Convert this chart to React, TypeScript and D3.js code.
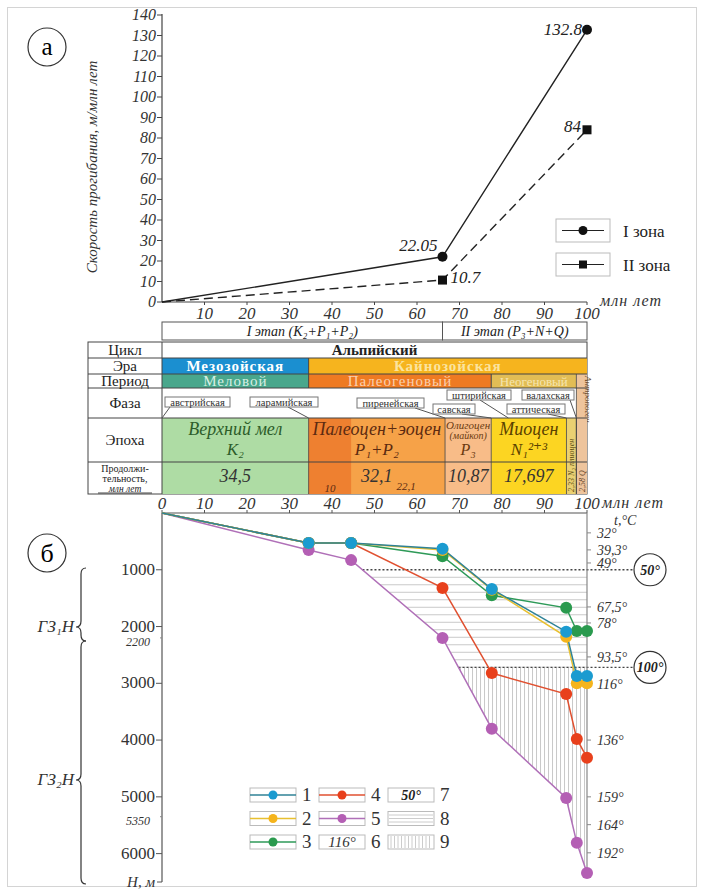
import React from "react";
import * as d3 from "d3";

// ---- chart (a): subsidence rate ----
const topAges = [0, 66, 100];
const zone1 = [0, 22.05, 132.8];
const zone2 = [0, 10.7, 84];
const zone1Labels = ["", "22.05", "132.8"];
const zone2Labels = ["", "10.7", "84"];
const topYTicks = [0, 10, 20, 30, 40, 50, 60, 70, 80, 90, 100, 110, 120, 130, 140];
const topXTicks = [10, 20, 30, 40, 50, 60, 70, 80, 90, 100];

// ---- stratigraphic table ----
const stageNames = ["I этап (K₂+P₁+P₂)", "II этап (P₃+N+Q)"];
const stageBounds = [0, 66, 100];
const eraNames = ["Мезозойская", "Кайнозойская"];
const eraBounds = [0, 34.5, 100];
const periodNames = ["Меловой", "Палеогеновый", "Неогеновый"];
const periodBounds = [0, 34.5, 77.47, 97.5];
const epochNames = ["Верхний мел", "Палеоцен+эоцен", "Олигоцен", "Миоцен"];
const epochIndex = ["K₂", "P₁+P₂", "P₃", "N₁²⁺³"];
const epochBounds = [0, 34.5, 66.6, 77.47, 95.17, 97.5, 100];
const durations = ["34,5", "32,1", "10,87", "17,697", "2,33", "2,58"];
const paleoSplit = 44.5;
const phaseNames = ["австрийская", "ларамийская", "пиренейская", "савская", "штирийская", "аттическая", "валахская"];
const phaseAges = [0, 34.5, 66.6, 77.47, 81.5, 95.17, 97.5];

// ---- chart (б): burial history ----
const burialAges = [0, 34.5, 44.5, 66, 77.6, 95.1, 97.6, 100];
const well1 = [0, 530, 530, 630, 1340, 2090, 2870, 2870];
const well2 = [0, 530, 530, 650, 1350, 2180, 3000, 3000];
const well3 = [0, 530, 530, 760, 1450, 1670, 2080, 2080];
const well4 = [0, 530, 530, 1320, 2820, 3190, 3980, 4310];
const well5 = [0, 650, 830, 2200, 3800, 5020, 5810, 6340];
const bottomXTicks = [0, 10, 20, 30, 40, 50, 60, 70, 80, 90, 100];
const depthTicks = [1000, 2000, 3000, 4000, 5000, 6000];
const extraDepths = [2200, 5350];
const tempLabels = ["32°", "39,3°", "49°", "67,5°", "78°", "93,5°", "116°", "136°", "159°", "164°", "192°"];
const tempDepths = [350, 650, 880, 1655, 1937, 2535, 3010, 4000, 5000, 5490, 5986];
const isothermDepths = [1000, 2720];
const isothermLabels = ["50°", "100°"];

const SERIF = '"Liberation Serif", "Times New Roman", "DejaVu Serif", serif';
const wellColors = ["#1b9bd0", "#f5b41c", "#2a9a4e", "#e8401c", "#b45fb4"];
const wellLines = ["#2f8296", "#e8c030", "#2e9a58", "#e05030", "#b070b8"];

const x = d3.scaleLinear().domain([0, 100]).range([162, 587]);
const yTop = d3.scaleLinear().domain([0, 140]).range([302, 15]);
const yDepth = d3.scaleLinear().domain([0, 6500]).range([513, 882]);

// age on the deepest curve at a given depth
function ageAtDepth(d: number) {
  for (let i = 0; i < well5.length - 1; i++) {
    if (d >= well5[i] && d <= well5[i + 1]) {
      const t = (d - well5[i]) / (well5[i + 1] - well5[i]);
      return burialAges[i] + t * (burialAges[i + 1] - burialAges[i]);
    }
  }
  return 100;
}

function bandPolygon(d0: number, d1: number) {
  const pts: [number, number][] = [[x(ageAtDepth(d0)), yDepth(d0)]];
  well5.forEach((d, i) => {
    if (d > d0 && d < d1) pts.push([x(burialAges[i]), yDepth(d)]);
  });
  pts.push([x(ageAtDepth(d1)), yDepth(d1)]);
  pts.push([x(100), yDepth(d1)]);
  pts.push([x(100), yDepth(d0)]);
  return pts.map((p) => p.join(",")).join(" ");
}

function brace(bx: number, y0: number, ym: number, y1: number) {
  const w = 5;
  const r = 6;
  return `M${bx + w},${y0} Q${bx},${y0} ${bx},${y0 + r} L${bx},${ym - r} Q${bx},${ym} ${bx - w},${ym} Q${bx},${ym} ${bx},${ym + r} L${bx},${y1 - r} Q${bx},${y1} ${bx + w},${y1}`;
}

function App() {
  const topLine = d3.line<number>().x((_, i) => x(topAges[i])).y((d) => yTop(d));
  const burialLine = d3.line<number>().x((_, i) => x(burialAges[i])).y((d) => yDepth(d));
  const wells = [well1, well2, well3, well4, well5];

  // table rows
  const rows = { cycle: [342, 358], era: [358, 374], period: [374, 388], phase: [388, 418], epoch: [418, 462], dur: [462, 494] };
  const rowLabels = ["Цикл", "Эра", "Период", "Фаза", "Эпоха"];
  const rowKeys = ["cycle", "era", "period", "phase", "epoch"];
  const eraFill = ["#1b8fd0", "#f6b41e"];
  const eraText = ["#ffffff", "#fbe4a0"];
  const periodFill = ["#49a78c", "#ee7a22", "#e2bd55"];
  const periodText = ["#d8efe4", "#fad0b0", "#f6e6b0"];
  const epochFill = ["#aedca4", "#f6a248", "#f8bc88", "#fcd522", "#ead072", "#eec49c"];
  const epochText = ["#2d5d2a", "#5c2a10", "#6a3a10", "#5a4200"];
  const phaseBox = [
    [165, 397, 65], [250, 397, 68], [357, 398, 67], [433, 404, 42], [447, 390, 64], [507, 404, 58], [522, 390, 52],
  ];
  const phaseAnchor = [170, 288, 415, 462, 480, 548, 570];

  const hStep = 7.5;
  const hLines = d3.range(yDepth(isothermDepths[0]) + hStep, yDepth(isothermDepths[1]), hStep);
  const vLines = d3.range(x(ageAtDepth(isothermDepths[1])) + 2, x(100), 4);

  return (
    <svg width={704} height={890} style={{ position: "absolute", left: 0, top: 0, background: "#fff", fontFamily: SERIF }}>
      <defs>
        <clipPath id="band1"><polygon points={bandPolygon(isothermDepths[0], isothermDepths[1])} /></clipPath>
        <clipPath id="band2"><polygon points={bandPolygon(isothermDepths[1], well5[well5.length - 1])} /></clipPath>
      </defs>
      <rect x={7.5} y={7.5} width={689} height={879} fill="#fff" stroke="#d4d4d4" />

      {/* ===== chart (a) ===== */}
      <circle cx={47} cy={47} r={19} fill="#fff" stroke="#333" strokeWidth={1.2} />
      <text x={47} y={55} textAnchor="middle" fontSize={25}>а</text>
      <text transform="translate(97,167) rotate(-90)" textAnchor="middle" fontSize={15} fontStyle="italic" fill="#333">
        Скорость прогибания, м/млн  лет
      </text>
      <line x1={x(0)} x2={x(0)} y1={14} y2={yTop(0)} stroke="#444" strokeWidth={1.2} />
      <line x1={x(0)} x2={x(100)} y1={yTop(0)} y2={yTop(0)} stroke="#444" strokeWidth={1.2} />
      {topYTicks.map((t) => (
        <g key={t}>
          <line x1={x(0) - 5} x2={x(0)} y1={yTop(t)} y2={yTop(t)} stroke="#444" />
          <text x={x(0) - 6} y={yTop(t) + 5} textAnchor="end" fontSize={16} fontStyle="italic" fill="#333">{t}</text>
        </g>
      ))}
      {topXTicks.map((t) => (
        <g key={t}>
          <line x1={x(t)} x2={x(t)} y1={yTop(0)} y2={yTop(0) + 3} stroke="#444" />
          <text x={x(t)} y={319} textAnchor="middle" fontSize={17} fontStyle="italic" fill="#333">{t}</text>
        </g>
      ))}
      <text x={600} y={306} fontSize={16} fontStyle="italic" fill="#333" letterSpacing={1}>млн  лет</text>
      <path d={topLine(zone1) || ""} fill="none" stroke="#222" strokeWidth={1.4} />
      <path d={topLine(zone2) || ""} fill="none" stroke="#222" strokeWidth={1.4} strokeDasharray="9,5" />
      {zone1.map((v, i) => i > 0 && (
        <g key={"z1" + i}>
          <circle cx={x(topAges[i])} cy={yTop(v)} r={5} fill="#111" />
          <text x={x(topAges[i]) - 5} y={yTop(v) + (i === 2 ? 5 : -6)} textAnchor="end" fontSize={17} fontStyle="italic" fill="#222">{zone1Labels[i]}</text>
        </g>
      ))}
      {zone2.map((v, i) => i > 0 && (
        <g key={"z2" + i}>
          <rect x={x(topAges[i]) - 4.5} y={yTop(v) - 4.5} width={9} height={9} fill="#111" />
          {i === 1 ? (
            <text x={x(topAges[i]) + 8} y={yTop(v) + 3} fontSize={17} fontStyle="italic" fill="#222">{zone2Labels[i]}</text>
          ) : (
            <text x={x(topAges[i]) - 6} y={yTop(v) + 2} textAnchor="end" fontSize={17} fontStyle="italic" fill="#222">{zone2Labels[i]}</text>
          )}
        </g>
      ))}
      {/* legend (a) */}
      <rect x={556} y={219} width={54} height={23} fill="#fff" stroke="#bbb" />
      <line x1={562} x2={604} y1={230.5} y2={230.5} stroke="#222" />
      <circle cx={583} cy={230.5} r={4.5} fill="#111" />
      <text x={623} y={237} fontSize={17} fill="#222">I зона</text>
      <rect x={556} y={253} width={54} height={23} fill="#fff" stroke="#bbb" />
      <line x1={562} x2={604} y1={264.5} y2={264.5} stroke="#222" />
      <rect x={579} y={260.5} width={8} height={8} fill="#111" />
      <text x={623} y={271} fontSize={17} fill="#222">II зона</text>

      {/* stage boxes */}
      {stageNames.map((s, i) => (
        <g key={s}>
          <rect x={x(stageBounds[i])} y={322} width={x(stageBounds[i + 1]) - x(stageBounds[i])} height={18} fill="#fff" stroke="#555" />
          <text x={(x(stageBounds[i]) + x(stageBounds[i + 1])) / 2} y={336} textAnchor="middle" fontSize={14} fontStyle="italic" fill="#222">{s}</text>
        </g>
      ))}

      {/* ===== stratigraphic table ===== */}
      <rect x={88} y={342} width={x(100) - 88} height={152} fill="#fff" stroke="#444" />
      {eraNames.map((n, i) => (
        <g key={n}>
          <rect x={x(eraBounds[i])} y={rows.era[0]} width={x(eraBounds[i + 1]) - x(eraBounds[i])} height={16} fill={eraFill[i]} />
          <text x={(x(eraBounds[i]) + x(eraBounds[i + 1])) / 2} y={rows.era[0] + 13} textAnchor="middle" fontSize={15} fontWeight="bold" letterSpacing={1} fill={eraText[i]}>{n}</text>
        </g>
      ))}
      {periodNames.map((n, i) => (
        <g key={n}>
          <rect x={x(periodBounds[i])} y={rows.period[0]} width={x(periodBounds[i + 1]) - x(periodBounds[i])} height={14} fill={periodFill[i]} />
          <text x={(x(periodBounds[i]) + x(periodBounds[i + 1])) / 2} y={rows.period[0] + 12} textAnchor="middle" fontSize={i === 2 ? 13 : 15} letterSpacing={i === 2 ? 0 : 1} fill={periodText[i]}>{n}</text>
        </g>
      ))}
      {/* quaternary column spans period..duration */}
      <rect x={x(97.5)} y={rows.period[0]} width={x(100) - x(97.5)} height={rows.dur[1] - rows.period[0]} fill={epochFill[5]} />
      <text transform={`translate(${x(98.75) + 3},${rows.period[0] + 2}) rotate(90)`} fontSize={9} fontStyle="italic" fill="#6a4a2a">Антропоген</text>
      {epochBounds.slice(0, -1).map((b, i) => (
        <rect key={"ep" + i} x={x(b)} y={rows.epoch[0]} width={x(epochBounds[i + 1]) - x(b)} height={rows.dur[1] - rows.epoch[0]} fill={epochFill[i]} />
      ))}
      <rect x={x(epochBounds[1])} y={rows.epoch[0]} width={x(paleoSplit) - x(epochBounds[1])} height={rows.dur[1] - rows.epoch[0]} fill="#ee8030" />
      {epochNames.map((n, i) => {
        const cx = (x(epochBounds[i]) + x(epochBounds[i + 1])) / 2;
        const small = i === 2;
        return (
          <g key={n} fill={epochText[i]} fontStyle="italic">
            <text x={cx} y={small ? 429 : 435} textAnchor="middle" fontSize={small ? 11 : 18}>{n}</text>
            {small && <text x={cx} y={439} textAnchor="middle" fontSize={10}>(майкоп)</text>}
            <text x={cx} y={455} textAnchor="middle" fontSize={small ? 16 : 17}>{epochIndex[i]}</text>
          </g>
        );
      })}
      <text transform={`translate(${x(96.33) + 3},${rows.dur[1] - 2}) rotate(-90)`} fontSize={8} fontStyle="italic" fill="#5a4a10">{durations[4]} N₂ плиоцен</text>
      <text transform={`translate(${x(98.75) + 3},${rows.dur[1] - 2}) rotate(-90)`} fontSize={8} fontStyle="italic" fill="#5a3a20">{durations[5]}   Q</text>
      {durations.slice(0, 4).map((d, i) => (
        <text key={d} x={(x(epochBounds[i]) + x(epochBounds[i + 1])) / 2} y={482} textAnchor="middle" fontSize={18} fontStyle="italic" fill="#333">{d}</text>
      ))}
      <text x={(x(epochBounds[1]) + x(paleoSplit)) / 2} y={492} textAnchor="middle" fontSize={11} fontStyle="italic" fill="#5c2a10">10</text>
      <text x={x(paleoSplit) + 55} y={490} textAnchor="middle" fontSize={11} fontStyle="italic" fill="#5c2a10">22,1</text>

      {/* table grid */}
      {[rows.era[0], rows.period[0], rows.phase[0], rows.epoch[0], rows.dur[0]].map((yy) => (
        <line key={yy} x1={88} x2={x(100)} y1={yy} y2={yy} stroke="#444" />
      ))}
      <line x1={x(0)} x2={x(0)} y1={342} y2={494} stroke="#444" />
      {[34.5, 77.47].map((b) => (
        <line key={"pb" + b} x1={x(b)} x2={x(b)} y1={rows.period[0]} y2={rows.period[1]} stroke="#444" />
      ))}
      {epochBounds.slice(1, -1).map((b) => (
        <line key={"eb" + b} x1={x(b)} x2={x(b)} y1={rows.epoch[0]} y2={494} stroke="#444" strokeWidth={0.8} />
      ))}
      <line x1={x(97.5)} x2={x(97.5)} y1={rows.period[0]} y2={494} stroke="#444" strokeWidth={0.8} />
      <line x1={x(34.5)} x2={x(34.5)} y1={rows.era[0]} y2={rows.era[1]} stroke="#444" />
      <text x={(x(0) + x(100)) / 2} y={355} textAnchor="middle" fontSize={15} fontWeight="bold" fill="#222">Альпийский</text>
      {rowLabels.map((l, i) => {
        const r = (rows as any)[rowKeys[i]];
        return <text key={l} x={125} y={(r[0] + r[1]) / 2 + 5} textAnchor="middle" fontSize={15} fill="#222">{l}</text>;
      })}
      <text x={125} y={472} textAnchor="middle" fontSize={10} fill="#222">Продолжи-</text>
      <text x={125} y={482} textAnchor="middle" fontSize={10} fill="#222">тельность,</text>
      <text x={125} y={491.5} textAnchor="middle" fontSize={9.5} fontStyle="italic" fill="#222">млн  лет</text>
      <line x1={98} x2={152} y1={493} y2={493} stroke="#444" />

      {/* phases */}
      {phaseNames.map((p, i) => {
        const [bx, by, bw] = phaseBox[i];
        return (
          <g key={p}>
            <line x1={phaseAnchor[i]} y1={by + 10} x2={x(phaseAges[i])} y2={rows.epoch[0]} stroke="#555" />
            <rect x={bx} y={by} width={bw} height={10} fill="#fff" stroke="#777" />
            <text x={bx + bw / 2} y={by + 8.5} textAnchor="middle" fontSize={10.5} fill="#333">{p}</text>
          </g>
        );
      })}

      {/* ===== chart (б) ===== */}
      <circle cx={47} cy={553} r={19} fill="#fff" stroke="#333" strokeWidth={1.2} />
      <text x={47} y={562} textAnchor="middle" fontSize={26}>б</text>

      {/* hatching */}
      <g clipPath="url(#band1)" stroke="#c9c9c9" strokeWidth={1}>
        {hLines.map((yy) => <line key={"h" + yy} x1={x(0)} x2={x(100)} y1={yy} y2={yy} />)}
      </g>
      <g clipPath="url(#band2)" stroke="#c9c9c9" strokeWidth={1}>
        {vLines.map((xx) => <line key={"v" + xx} x1={xx} x2={xx} y1={yDepth(isothermDepths[1])} y2={yDepth(6500)} />)}
      </g>
      {isothermDepths.map((d, i) => (
        <g key={"iso" + d}>
          <line x1={x(ageAtDepth(d))} x2={634} y1={yDepth(d)} y2={yDepth(d)} stroke="#444" strokeWidth={1.3} strokeDasharray="2,2" />
          <circle cx={650} cy={yDepth(d)} r={16} fill="#fff" stroke="#333" strokeWidth={1.2} />
          <text x={650} y={yDepth(d) + 5} textAnchor="middle" fontSize={14} fontWeight="bold" fontStyle="italic" fill="#222">{isothermLabels[i]}</text>
        </g>
      ))}

      {/* axes */}
      <line x1={x(0)} x2={x(100)} y1={yDepth(0)} y2={yDepth(0)} stroke="#555" strokeWidth={1.2} />
      {bottomXTicks.map((t) => (
        <g key={"bx" + t}>
          <line x1={x(t)} x2={x(t)} y1={yDepth(0) - 3} y2={yDepth(0)} stroke="#555" />
          <text x={x(t)} y={509} textAnchor="middle" fontSize={17} fontStyle="italic" fill="#333">{t}</text>
        </g>
      ))}
      <text x={602} y={508} fontSize={16} fontStyle="italic" fill="#333" letterSpacing={1}>млн  лет</text>
      <line x1={x(0)} x2={x(0)} y1={yDepth(0)} y2={yDepth(6500)} stroke="#555" strokeWidth={1.2} />
      <line x1={x(0) - 5} x2={x(0)} y1={yDepth(6500)} y2={yDepth(6500)} stroke="#555" />
      {depthTicks.map((t) => (
        <g key={"dy" + t}>
          <line x1={x(0) - 6} x2={x(0)} y1={yDepth(t)} y2={yDepth(t)} stroke="#555" />
          <text x={x(0) - 7} y={yDepth(t) + 5} textAnchor="end" fontSize={17} fill="#333">{t}</text>
        </g>
      ))}
      {extraDepths.map((t) => (
        <g key={"ed" + t}>
          <line x1={x(0) - 2} x2={x(0)} y1={yDepth(t)} y2={yDepth(t)} stroke="#888" />
          <text x={x(0) - 12} y={yDepth(t) + 8} textAnchor="end" fontSize={12} fontStyle="italic" fill="#333">{t}</text>
        </g>
      ))}
      <text x={x(0) - 7} y={887} textAnchor="end" fontSize={15} fontStyle="italic" fill="#333">H, м</text>
      <line x1={x(100)} x2={x(100)} y1={yDepth(0)} y2={yDepth(well5[well5.length - 1])} stroke="#888" strokeWidth={1.2} />
      <text x={614} y={525} fontSize={14} fontStyle="italic" fill="#333">t,°C</text>
      {tempLabels.map((t, i) => (
        <g key={"tl" + i}>
          <line x1={x(100)} x2={x(100) + 4} y1={yDepth(tempDepths[i])} y2={yDepth(tempDepths[i])} stroke="#888" />
          <text x={597} y={yDepth(tempDepths[i]) + 5} fontSize={14} fontStyle="italic" fill="#333">{t}</text>
        </g>
      ))}

      {/* burial curves */}
      {[4, 3, 2, 1, 0].map((k) => (
        <path key={"wl" + k} d={burialLine(wells[k]) || ""} fill="none" stroke={wellLines[k]} strokeWidth={1.5} />
      ))}
      {[4, 3, 2, 1, 0].map((k) => (
        <g key={"wp" + k}>
          {wells[k].map((d, i) => i > 0 && (
            <circle key={i} cx={x(burialAges[i])} cy={yDepth(d)} r={6} fill={wellColors[k]} />
          ))}
        </g>
      ))}

      {/* braces */}
      <path d={brace(81, 568, 627, 641)} fill="none" stroke="#333" strokeWidth={1.2} />
      <path d={brace(81, 641, 780, 884)} fill="none" stroke="#333" strokeWidth={1.2} />
      <text x={74} y={632} textAnchor="end" fontSize={17} fontStyle="italic" fill="#333">ГЗ₁Н</text>
      <text x={74} y={785} textAnchor="end" fontSize={17} fontStyle="italic" fill="#333">ГЗ₂Н</text>

      {/* legend (б) */}
      {[0, 1, 2, 3, 4].map((k) => {
        const col = k < 3 ? 0 : 1;
        const row = k < 3 ? k : k - 3;
        const bx = col === 0 ? 250 : 319;
        const cy = 795 + row * 23.5;
        return (
          <g key={"lg" + k}>
            <rect x={bx} y={cy - 7} width={46} height={14} fill="#fff" stroke="#bbb" />
            <line x1={bx} x2={bx + 46} y1={cy} y2={cy} stroke={wellLines[k]} strokeWidth={1.3} />
            <circle cx={bx + 23} cy={cy} r={4.5} fill={wellColors[k]} />
            <text x={bx + 52} y={cy + 6} fontSize={19} fill="#333">{k + 1}</text>
          </g>
        );
      })}
      <rect x={319} y={835} width={46} height={14} fill="#fff" stroke="#bbb" />
      <text x={342} y={847} textAnchor="middle" fontSize={15} fontStyle="italic" fill="#333">116°</text>
      <text x={371} y={848} fontSize={19} fill="#333">6</text>
      <rect x={388} y={788} width={46} height={14} fill="#fff" stroke="#bbb" />
      <text x={411} y={800} textAnchor="middle" fontSize={14} fontWeight="bold" fontStyle="italic" fill="#222">50°</text>
      <text x={440} y={801} fontSize={19} fill="#333">7</text>
      <rect x={388} y={811.5} width={46} height={14} fill="#fff" stroke="#bbb" />
      {[815, 818.5, 822].map((yy) => <line key={yy} x1={389} x2={433} y1={yy} y2={yy} stroke="#ccc" />)}
      <text x={440} y={824.5} fontSize={19} fill="#333">8</text>
      <rect x={388} y={835} width={46} height={14} fill="#fff" stroke="#bbb" />
      {d3.range(391, 433, 3.5).map((xx) => <line key={xx} x1={xx} x2={xx} y1={836} y2={848} stroke="#ccc" />)}
      <text x={440} y={848} fontSize={19} fill="#333">9</text>
    </svg>
  );
}

export default App;
